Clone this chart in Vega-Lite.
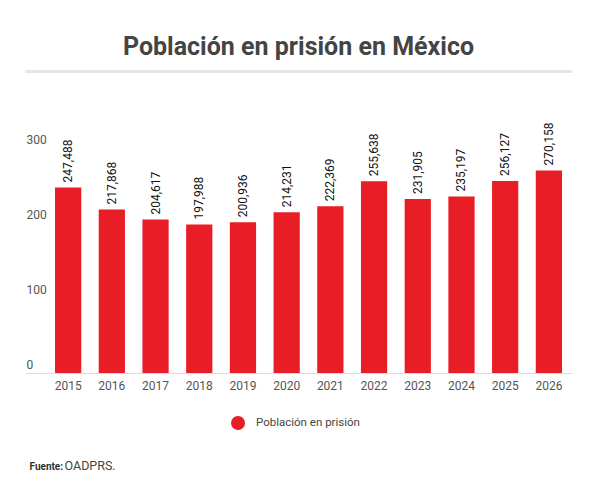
{
  "$schema": "https://vega.github.io/schema/vega-lite/v6.json",
  "autosize": "none",
  "width": 547,
  "height": 225,
  "padding": {"left": 25, "top": 148, "right": 28, "bottom": 128},
  "background": "white",
  "title": {
    "text": "Población en prisión en México",
    "font": "Roboto",
    "fontSize": 25,
    "fontWeight": "bold",
    "color": "#444444",
    "anchor": "middle",
    "offset": 11
  },
  "data": {
    "values": [
      {"year": "2015", "value": 247488},
      {"year": "2016", "value": 217868},
      {"year": "2017", "value": 204617},
      {"year": "2018", "value": 197988},
      {"year": "2019", "value": 200936},
      {"year": "2020", "value": 214231},
      {"year": "2021", "value": 222369},
      {"year": "2022", "value": 255638},
      {"year": "2023", "value": 231905},
      {"year": "2024", "value": 235197},
      {"year": "2025", "value": 256127},
      {"year": "2026", "value": 270158}
    ]
  },
  "encoding": {
    "y": {
      "field": "value",
      "type": "quantitative",
      "scale": {"domain": [0, 300000], "nice": false},
      "axis": {
        "orient": "left",
        "grid": false,
        "domain": false,
        "ticks": false,
        "tickSize": 0,
        "values": [0, 100000, 200000, 300000],
        "labelExpr": "format(datum.value / 1000, 'd')",
        "labelAlign": "left",
        "labelBaseline": "bottom",
        "labelPadding": -1,
        "labelOffset": -2,
        "labelFont": "Roboto",
        "labelFontSize": 12,
        "labelColor": "#555555",
        "title": "OADPRS.",
        "titleAngle": 0,
        "titleAlign": "left",
        "titleBaseline": "alphabetic",
        "titleX": 39,
        "titleY": 321,
        "titleFont": "Roboto",
        "titleFontSize": 12.5,
        "titleFontWeight": "normal",
        "titleColor": "#444444"
      }
    }
  },
  "layer": [
    {
      "mark": {"type": "bar"},
      "encoding": {
        "x": {
          "field": "year",
          "type": "ordinal",
          "scale": {"paddingInner": 0.4, "paddingOuter": 0.458, "align": 0.75},
          "axis": {
            "orient": "bottom",
            "labelAngle": 0,
            "ticks": false,
            "tickSize": 0,
            "domainColor": "#dcdcdc",
            "labelFont": "Roboto",
            "labelFontSize": 12,
            "labelColor": "#555555",
            "labelPadding": 7,
            "title": "Fuente:",
            "titleFont": "Roboto",
            "titleFontSize": 10,
            "titleFontWeight": "bold",
            "titleColor": "#333333",
            "titleAnchor": "start",
            "titleAlign": "left",
            "titleBaseline": "alphabetic",
            "titleX": 4,
            "titleY": 96
          }
        },
        "color": {
          "datum": "Población en prisión",
          "scale": {"range": ["#e91d25"]},
          "legend": {
            "title": null,
            "orient": "none",
            "legendX": 206,
            "legendY": 268,
            "direction": "horizontal",
            "symbolType": "circle",
            "symbolSize": 196,
            "symbolStrokeWidth": 0,
            "labelOffset": 11,
            "labelFont": "Roboto",
            "labelFontSize": 11.5,
            "labelColor": "#444444"
          }
        }
      }
    },
    {
      "mark": {
        "type": "text",
        "angle": 270,
        "align": "left",
        "baseline": "middle",
        "dx": 5,
        "font": "Roboto",
        "fontSize": 12,
        "color": "#111111"
      },
      "encoding": {
        "x": {
          "field": "year",
          "type": "ordinal",
          "axis": {
            "orient": "top",
            "labels": false,
            "ticks": false,
            "tickSize": 0,
            "domainColor": "#e6e6e6",
            "domainWidth": 3,
            "offset": 77,
            "title": null
          }
        },
        "text": {"field": "value", "type": "quantitative", "format": ","}
      }
    }
  ],
  "resolve": {"axis": {"x": "independent"}},
  "config": {"view": {"stroke": null}}
}
